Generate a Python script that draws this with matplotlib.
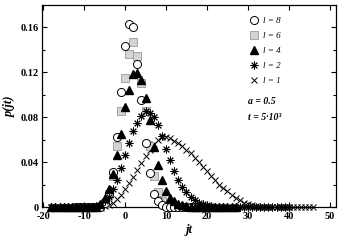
import matplotlib
matplotlib.use("Agg")
import matplotlib.pyplot as plt
import numpy as np
from matplotlib.ticker import MultipleLocator

# jt values and p(jt)
jt_8 = list(range(-12, 18))
p_8 = [0, 0, 0, 0, 0, 0, 0,
       0.004, 0.012, 0.031, 0.062, 0.102, 0.143, 0.163, 0.160, 0.127, 0.095,
       0.057, 0.030, 0.012, 0.005, 0.002,
       0, 0, 0, 0, 0, 0, 0, 0]

jt_6 = list(range(-12, 18))
p_6 = [0, 0, 0, 0, 0, 0, 0,
       0.004, 0.012, 0.028, 0.054, 0.085, 0.115, 0.136, 0.147, 0.134, 0.110,
       0.085, 0.054, 0.028, 0.013, 0.005, 0.002,
       0, 0, 0, 0, 0, 0, 0]

jt_4 = list(range(-18, 28))
p_4 = [0, 0, 0, 0, 0, 0, 0, 0, 0, 0, 0, 0,
       0.003, 0.008, 0.016, 0.029, 0.046, 0.065, 0.089, 0.104, 0.118, 0.119,
       0.113, 0.097, 0.077, 0.053, 0.037, 0.024, 0.014, 0.008, 0.005, 0.003,
       0.002, 0.001,
       0, 0, 0, 0, 0, 0, 0, 0, 0, 0, 0, 0]

jt_2 = list(range(-18, 41))
p_2 = [0, 0, 0, 0, 0, 0, 0, 0, 0, 0, 0,
       0.001, 0.002, 0.005, 0.009, 0.016, 0.024, 0.035, 0.046, 0.057, 0.068,
       0.075, 0.081, 0.085, 0.084, 0.080, 0.073, 0.063, 0.052, 0.042, 0.032,
       0.024, 0.018, 0.013, 0.009, 0.006, 0.004, 0.003, 0.002, 0.001,
       0, 0, 0, 0, 0, 0, 0, 0, 0, 0, 0, 0, 0, 0, 0, 0, 0, 0, 0]

jt_1 = list(range(-18, 47))
p_1 = [0, 0, 0, 0, 0, 0, 0, 0, 0, 0, 0, 0, 0,
       0.001, 0.002, 0.004, 0.007, 0.011, 0.016, 0.021, 0.027, 0.033, 0.039,
       0.045, 0.051, 0.056, 0.060, 0.062, 0.062, 0.061, 0.059, 0.057, 0.054,
       0.051, 0.048, 0.044, 0.040, 0.036, 0.032, 0.028, 0.024, 0.020, 0.017,
       0.014, 0.011, 0.008, 0.006, 0.004, 0.003, 0.002, 0.001,
       0, 0, 0, 0, 0, 0, 0, 0, 0, 0, 0, 0, 0, 0]

x_ticks = [-20, -10, 0, 10, 20, 30, 40, 50]
y_ticks = [0, 0.04, 0.08, 0.12, 0.16]
y_ticklabels = ['0', '0.04', '0.08', '0.12', '0.16']

plt.rcParams['font.family'] = ['Liberation Serif', 'DejaVu Serif']

fig = plt.figure(figsize=(3.38, 2.43), dpi=100)
ax = fig.add_axes([0.124, 0.148, 0.870, 0.831])

ax.plot(jt_1, p_1, ls='none', marker='x', ms=4.2, mew=0.7, color='k',
        clip_on=False, zorder=3, label='l = 1')
ax.plot(jt_6, p_6, ls='none', marker='s', ms=5.2, mew=0.6, mfc='#d4d4d4',
        mec='#9a9a9a', clip_on=False, zorder=4, label='l = 6')
ax.plot(jt_8, p_8, ls='none', marker='o', ms=5.8, mew=0.7, mfc='white',
        mec='k', clip_on=False, zorder=5, label='l = 8')
ax.plot(jt_2, p_2, ls='none', marker=(8, 2, 0), ms=5.6, mew=0.7, color='k',
        clip_on=False, zorder=6, label='l = 2')
ax.plot(jt_4, p_4, ls='none', marker='^', ms=5.2, color='k',
        clip_on=False, zorder=7, label='l = 4')

ax.set_xlim(-20.3, 51.5)
ax.set_ylim(0, 0.1795)
ax.set_xticks(x_ticks)
ax.set_xticklabels([str(v) for v in x_ticks])
ax.set_yticks(y_ticks)
ax.set_yticklabels(y_ticklabels)
ax.yaxis.set_minor_locator(MultipleLocator(0.02))
ax.tick_params(which='both', direction='in', top=True, right=True,
               labelsize=7.5)
ax.tick_params(axis='x', pad=3.5)
ax.tick_params(axis='y', pad=2.5)
ax.tick_params(which='major', length=3.5, width=0.8)
ax.tick_params(which='minor', length=2, width=0.8)
for lab in ax.get_xticklabels() + ax.get_yticklabels():
    lab.set_fontweight('bold')
for sp in ax.spines.values():
    sp.set_linewidth(0.9)

ax.set_xlabel('jt', fontsize=9, fontweight='bold', style='italic', labelpad=2)
ax.set_ylabel('p(jt)', fontsize=9, fontweight='bold', style='italic', labelpad=3)

h, l = ax.get_legend_handles_labels()
order = ['l = 8', 'l = 6', 'l = 4', 'l = 2', 'l = 1']
hs = [h[l.index(o)] for o in order]
leg = ax.legend(hs, order, loc='upper left', bbox_to_anchor=(0.685, 0.975),
                frameon=False, fontsize=6.5, handlelength=1.0,
                handletextpad=0.5, labelspacing=0.75, borderpad=0.2)
for t in leg.get_texts():
    t.set_style('italic')

ax.text(0.70, 0.51, 'a = 0.5', transform=ax.transAxes, fontsize=7,
        fontweight='bold', style='italic')
ax.text(0.70, 0.43, 't = 5·10³', transform=ax.transAxes, fontsize=7,
        fontweight='bold', style='italic')

plt.savefig('out.png', dpi=100)
